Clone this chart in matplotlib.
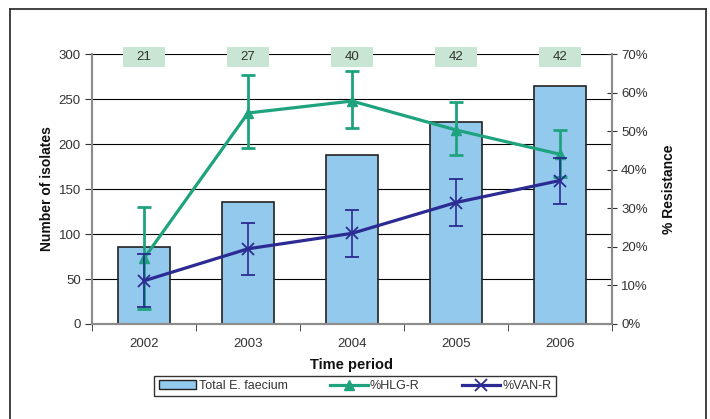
import matplotlib.pyplot as plt
from matplotlib.patches import Rectangle
from matplotlib.lines import Line2D
from matplotlib.ticker import FixedLocator, NullFormatter

plt.rcParams['font.family'] = ['Liberation Sans', 'DejaVu Sans']

# Data
years = ['2002', '2003', '2004', '2005', '2006']
total_isolates = [86, 136, 188, 224, 264]
hlg_r = [17.0, 54.7, 57.8, 50.3, 44.0]
hlg_low = [4.0, 45.6, 50.7, 43.7, 38.0]
hlg_high = [30.3, 64.5, 65.5, 57.5, 50.4]
van_r = [11.2, 19.5, 23.5, 31.5, 37.2]
van_low = [4.5, 12.8, 17.4, 25.3, 31.0]
van_high = [18.1, 26.3, 29.5, 37.7, 43.0]
n_tested = [21, 27, 40, 42, 42]

bar_color = '#93c9ec'
hlg_color = '#1fa37f'
van_color = '#2b2b93'
text_color = '#333333'
spine_color = '#8c8c8c'

fig = plt.figure(figsize=(7.1, 4.19), dpi=100)
ax = fig.add_axes([92 / 710, 1 - 324 / 419, 520 / 710, 270 / 419])
ax2 = ax.twinx()

x = list(range(len(years)))

# bars on the left axis
ax.bar(x, total_isolates, width=0.5, color=bar_color, edgecolor='#222222',
       linewidth=1.2, zorder=2)
ax.set_xlim(-0.5, len(years) - 0.5)
ax.set_ylim(0, 300)
ax.set_yticks(range(0, 301, 50))
ax.grid(axis='y', color='black', linewidth=0.8, zorder=0)
ax.set_axisbelow(True)

# resistance lines on the right axis
hlg_err = [[v - lo for v, lo in zip(hlg_r, hlg_low)],
           [hi - v for v, hi in zip(hlg_r, hlg_high)]]
van_err = [[v - lo for v, lo in zip(van_r, van_low)],
           [hi - v for v, hi in zip(van_r, van_high)]]
ax2.errorbar(x, hlg_r, yerr=hlg_err, color=hlg_color, linewidth=2.3,
             marker='^', markersize=7, elinewidth=2, capsize=5, capthick=2, zorder=3)
ax2.errorbar(x, van_r, yerr=van_err, color=van_color, linewidth=2.3,
             marker='x', markersize=8, markeredgewidth=1.3, elinewidth=1.2,
             capsize=5, capthick=1.2, zorder=4)
ax2.set_ylim(0, 70)
ax2.set_yticks(range(0, 71, 10))
ax2.set_yticklabels([f'{v}%' for v in range(0, 71, 10)])

# spines and ticks
for a in (ax, ax2):
    a.spines['top'].set_visible(False)
    for s in ('left', 'right', 'bottom'):
        a.spines[s].set_color(spine_color)
        a.spines[s].set_linewidth(1.5)
ax.tick_params(axis='y', direction='out', length=5, color=text_color,
               labelsize=9.5, labelcolor=text_color, pad=3)
ax2.tick_params(axis='y', direction='inout', length=7, color=text_color,
                labelsize=9.5, labelcolor=text_color, pad=3)
ax.set_xticks(x)
ax.set_xticklabels(years)
ax.tick_params(axis='x', which='major', length=0, labelsize=9.5,
               labelcolor=text_color, pad=10)
ax.xaxis.set_minor_locator(FixedLocator([i - 0.5 for i in range(len(years) + 1)]))
ax.xaxis.set_minor_formatter(NullFormatter())
ax.tick_params(axis='x', which='minor', direction='out', length=5, color=text_color)

ax.set_xlabel('Time period', fontsize=10.5, fontweight='bold', color='#111111', labelpad=6)
ax.set_ylabel('Number of isolates', fontsize=10, fontweight='bold', color='#111111', labelpad=3)
ax2.set_ylabel('% Resistance', fontsize=10, fontweight='bold', color='#111111', labelpad=10)

# number tested boxes along the top
for xi, n in zip(x, n_tested):
    ax.add_patch(Rectangle((xi - 0.2, 285.6), 0.4, 22.2, facecolor='#c8e6d3',
                           edgecolor='none', clip_on=False, zorder=5))
    ax.text(xi, 297, str(n), ha='center', va='center', fontsize=9.5,
            color=text_color, zorder=6)

# legend
handles = [
    Rectangle((0, 0), 1, 1, facecolor=bar_color, edgecolor='#222222', linewidth=1),
    Line2D([], [], color=hlg_color, linewidth=2.3, marker='^', markersize=7),
    Line2D([], [], color=van_color, linewidth=2.3, marker='x', markersize=8,
           markeredgewidth=1.3),
]
leg = fig.legend(handles, ['Total E. faecium', '%HLG-R', '%VAN-R'],
                 loc='center', bbox_to_anchor=(355 / 710, 1 - 386 / 419), ncol=3,
                 frameon=True, fancybox=False, edgecolor='black', fontsize=9,
                 handlelength=3.0, handletextpad=0.2, columnspacing=3.4,
                 borderpad=0.35, labelcolor=text_color)
leg.get_frame().set_linewidth(1.0)

# outer border
for xs, ys in [((10 / 710, 10 / 710), (-0.05, 1 - 9 / 419)),
               ((10 / 710, 706 / 710), (1 - 9 / 419, 1 - 9 / 419)),
               ((706 / 710, 706 / 710), (1 - 9 / 419, -0.05))]:
    fig.add_artist(Line2D(xs, ys, color='#333333', linewidth=1.3,
                          transform=fig.transFigure))

fig.savefig('out.png', dpi=100)
